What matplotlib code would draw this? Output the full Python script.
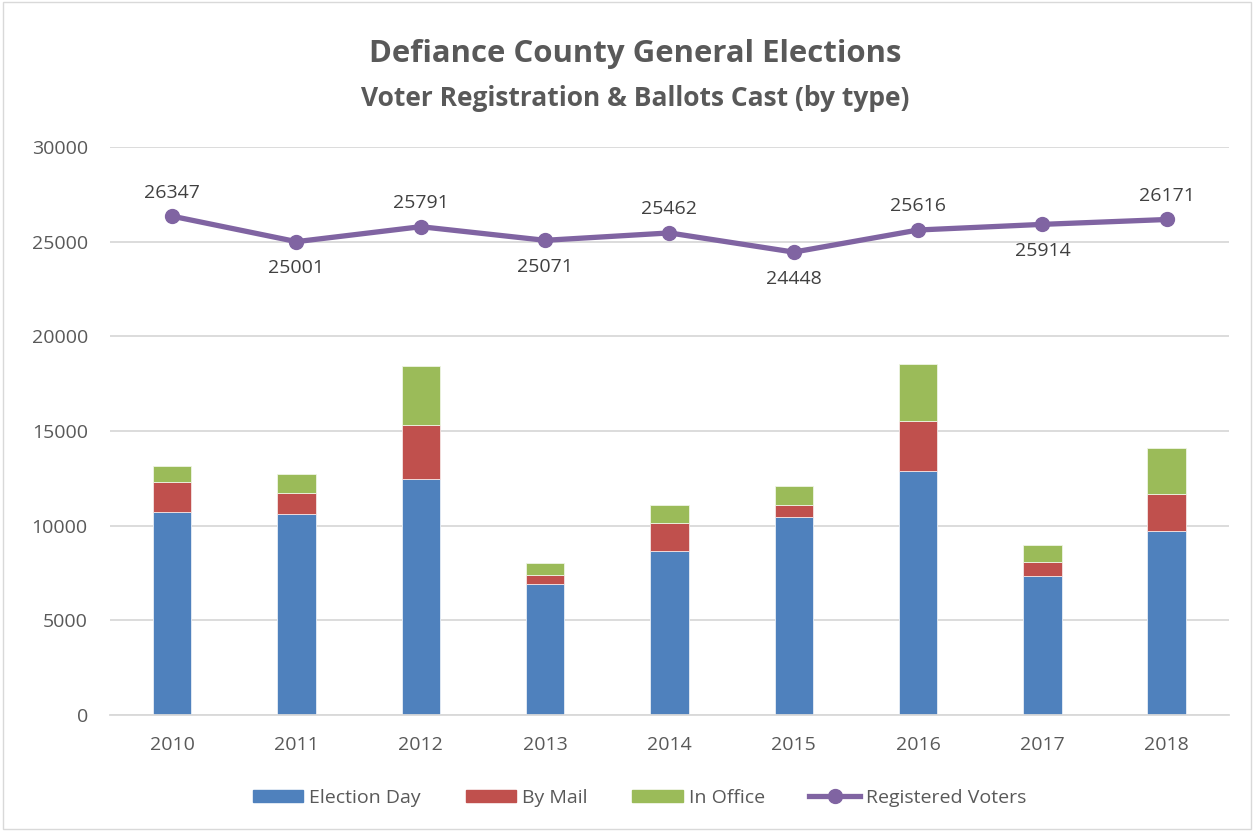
import matplotlib
matplotlib.use('Agg')
import matplotlib.pyplot as plt
from matplotlib.patches import Rectangle
from matplotlib.lines import Line2D
import numpy as np

plt.rcParams['font.family'] = ['Open Sans', 'DejaVu Sans']

years = ['2010', '2011', '2012', '2013', '2014', '2015', '2016', '2017', '2018']
election_day = [10720, 10600, 12490, 6895, 8650, 10475, 12895, 7350, 9720]
by_mail = [1560, 1140, 2825, 525, 1475, 595, 2630, 755, 1950]
in_office = [880, 1015, 3105, 615, 945, 1000, 3035, 895, 2440]
registered = [26347, 25001, 25791, 25071, 25462, 24448, 25616, 25914, 26171]
label_above = [True, False, True, False, True, False, True, False, True]

c_blue = '#4F81BD'
c_red = '#C0504D'
c_green = '#9BBB59'
c_purple = '#8064A2'
grey_txt = '#595959'

fig = plt.figure(figsize=(12.54, 8.31), dpi=100, facecolor='white')
ax = fig.add_axes([0.0877, 0.1396, 0.8923, 0.6835])

x = np.arange(len(years))
ed = np.array(election_day)
bm = np.array(by_mail)
io = np.array(in_office)
w = 0.31

ax.bar(x, ed, w, color=c_blue, edgecolor='#E8EEF6', linewidth=0.6, zorder=2)
ax.bar(x, bm, w, bottom=ed, color=c_red, edgecolor='#F4E4E4', linewidth=0.6, zorder=2)
ax.bar(x, io, w, bottom=ed + bm, color=c_green, edgecolor='#EEF4E4', linewidth=0.6, zorder=2)
ax.plot(x, registered, color=c_purple, linewidth=3.8, marker='o', markersize=10, zorder=3)

for xi, v, up in zip(x, registered, label_above):
    off = 17 if up else -19
    ax.annotate(str(v), (xi, v), xytext=(0, off), textcoords='offset points',
                ha='center', va='center', fontsize=14, color='#404040')

ax.set_xlim(-0.5, len(years) - 0.5)
ax.set_ylim(0, 30000)
ax.set_yticks(range(0, 30001, 5000))
ax.set_xticks(x)
ax.set_xticklabels(years)
ax.yaxis.grid(True, color='#D9D9D9', linewidth=1.3, zorder=0)
ax.set_axisbelow(True)
for s in ['top', 'right', 'left']:
    ax.spines[s].set_visible(False)
ax.spines['bottom'].set_color('#D9D9D9')
ax.spines['bottom'].set_linewidth(1.3)
ax.tick_params(axis='both', length=0, labelsize=14, colors=grey_txt)
ax.tick_params(axis='x', pad=15)
ax.tick_params(axis='y', pad=16)

fig.text(0.5065, 0.935, 'Defiance County General Elections', ha='center', va='center',
         fontsize=22.4, fontweight='bold', color=grey_txt)
fig.text(0.5065, 0.882, 'Voter Registration & Ballots Cast (by type)', ha='center', va='center',
         fontsize=19, fontweight='bold', color=grey_txt)

handles = [
    Rectangle((0, 0), 1, 1, color=c_blue),
    Rectangle((0, 0), 1, 1, color=c_red),
    Rectangle((0, 0), 1, 1, color=c_green),
    Line2D([0], [0], color=c_purple, linewidth=3.8, marker='o', markersize=10),
]
labels = ['Election Day', 'By Mail', 'In Office', 'Registered Voters']
fig.legend(handles, labels, loc='center', bbox_to_anchor=(0.51, 0.04), ncol=4, frameon=False,
           fontsize=14, labelcolor=grey_txt, handlelength=2.6, handleheight=0.6,
           handletextpad=0.3, columnspacing=2.3)

fig.patches.append(Rectangle((0.002, 0.002), 0.996, 0.996, transform=fig.transFigure,
                             fill=False, edgecolor='#D9D9D9', linewidth=1))

fig.savefig('out.png', dpi=100, facecolor='white')
